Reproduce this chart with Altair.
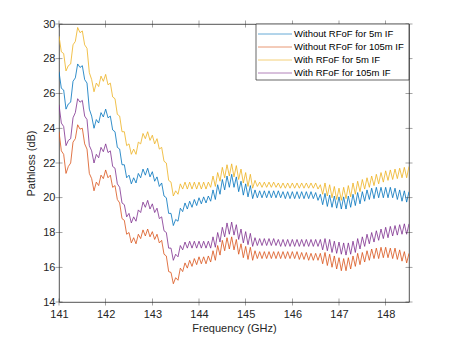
import altair as alt
import numpy as np
import pandas as pd

# Sampling grid: 141.00 .. 148.50 GHz every 0.05 GHz (151 samples)
freq = np.round(np.linspace(141.0, 148.5, 151), 3)

# Without RFoF for 5m IF (blue)
blue = [
    27.25, 26.3, 26.2, 25.1, 25.4, 25.5, 26.7, 26.9, 27.7, 27.5,
    27.6, 26.8, 26.6, 25.1, 24.7, 24.0, 24.5, 24.3, 24.9, 24.65,
    25.1, 24.6, 24.7, 23.9, 23.8, 22.9, 22.8, 21.9, 21.9, 21.15,
    21.3, 20.8, 21.15, 20.85, 21.4, 21.15, 21.65, 21.3, 21.7, 21.2,
    21.5, 20.95, 21.2, 20.65, 20.85, 20.1, 20.0, 19.1, 19.1, 18.4,
    18.75, 18.65, 19.4, 19.2, 19.7, 19.35, 19.8, 19.45, 19.9, 19.55,
    20.0, 19.65, 20.05, 19.7, 20.1, 19.8, 20.45, 19.9, 20.75, 20.2,
    21.05, 20.45, 21.25, 20.6, 21.35, 20.6, 21.2, 20.35, 20.95, 20.15,
    20.8, 20.05, 20.7, 19.95, 20.45, 20.0, 20.4, 20.0, 20.4, 20.0,
    20.4, 20.0, 20.4, 20.0, 20.4, 20.0, 20.35, 19.95, 20.35, 19.95,
    20.35, 19.95, 20.35, 19.95, 20.35, 19.95, 20.35, 19.95, 20.35, 19.95,
    20.3, 19.85, 20.2, 19.6, 20.25, 19.5, 20.15, 19.45, 20.1, 19.4,
    20.05, 19.35, 20.05, 19.35, 20.1, 19.45, 20.2, 19.55, 20.3, 19.65,
    20.35, 19.8, 20.45, 19.9, 20.55, 19.95, 20.6, 20.0, 20.6, 20.0,
    20.6, 20.0, 20.6, 20.0, 20.55, 19.9, 20.45, 19.8, 20.4, 19.75,
    20.35,
]

# Without RFoF for 105m IF (orange)
orange = [
    23.8, 22.7, 22.5, 21.4, 21.8, 22.0, 23.2, 23.4, 24.2, 23.95,
    24.0, 23.1, 22.8, 21.4, 21.1, 20.4, 20.9, 20.7, 21.3, 21.1,
    21.6, 21.15, 21.3, 20.6, 20.7, 19.9, 19.7, 18.8, 18.7, 17.9,
    18.0, 17.4, 17.7, 17.35, 17.9, 17.65, 18.15, 17.8, 18.2, 17.75,
    18.05, 17.6, 17.9, 17.4, 17.55, 16.75, 16.65, 15.75, 15.7, 15.05,
    15.4, 15.25, 15.95, 15.75, 16.25, 15.95, 16.4, 16.05, 16.5, 16.15,
    16.6, 16.2, 16.6, 16.2, 16.65, 16.3, 16.95, 16.4, 17.25, 16.7,
    17.55, 16.95, 17.7, 17.05, 17.75, 17.0, 17.6, 16.75, 17.35, 16.55,
    17.2, 16.45, 17.15, 16.4, 16.95, 16.5, 16.9, 16.5, 16.9, 16.5,
    16.9, 16.5, 16.9, 16.5, 16.9, 16.5, 16.9, 16.5, 16.9, 16.5,
    16.9, 16.5, 16.9, 16.45, 16.85, 16.45, 16.85, 16.4, 16.8, 16.4,
    16.8, 16.4, 16.8, 16.2, 16.85, 16.1, 16.75, 16.0, 16.65, 15.9,
    16.55, 15.8, 16.5, 15.8, 16.55, 15.9, 16.65, 16.05, 16.8, 16.15,
    16.85, 16.3, 16.95, 16.4, 17.05, 16.5, 17.1, 16.5, 17.15, 16.55,
    17.15, 16.55, 17.1, 16.5, 17.1, 16.45, 17.0, 16.35, 16.9, 16.25,
    16.8,
]

# With RFoF for 5m IF (yellow)
yellow = [
    29.3, 28.4, 28.3, 27.3, 27.6, 27.7, 28.8, 29.0, 29.8, 29.5,
    29.6, 28.8, 28.6, 27.2, 26.8, 26.1, 26.6, 26.4, 27.0, 26.7,
    27.1, 26.5, 26.6, 25.8, 25.7, 24.8, 24.7, 23.8, 23.8, 23.0,
    23.1, 22.5, 22.8, 22.5, 23.2, 23.1, 23.7, 23.4, 23.8, 23.3,
    23.6, 23.1, 23.4, 22.8, 22.9, 22.1, 22.0, 21.0, 20.9, 20.1,
    20.4, 20.2, 20.8, 20.5, 20.9, 20.5, 20.9, 20.5, 20.9, 20.5,
    20.9, 20.5, 20.9, 20.5, 20.9, 20.6, 21.25, 20.65, 21.45, 20.95,
    21.75, 21.15, 21.9, 21.25, 21.95, 21.2, 21.85, 21.05, 21.65, 20.85,
    21.45, 20.65, 21.35, 20.55, 21.0, 20.65, 20.9, 20.6, 20.9, 20.6,
    20.9, 20.6, 20.9, 20.6, 20.85, 20.55, 20.85, 20.55, 20.85, 20.55,
    20.85, 20.55, 20.85, 20.55, 20.85, 20.55, 20.85, 20.55, 20.85, 20.55,
    20.85, 20.5, 20.75, 20.2, 20.85, 20.1, 20.75, 20.0, 20.65, 19.9,
    20.55, 19.85, 20.6, 19.95, 20.7, 20.05, 20.85, 20.2, 20.95, 20.35,
    21.05, 20.5, 21.15, 20.6, 21.25, 20.7, 21.35, 20.8, 21.45, 20.9,
    21.55, 21.0, 21.6, 21.05, 21.65, 21.1, 21.7, 21.15, 21.75, 21.15,
    21.8,
]

# With RFoF for 105m IF (purple)
purple = [
    25.35, 24.3, 24.1, 23.0, 23.3, 23.4, 24.6, 24.9, 25.7, 25.5,
    25.6, 24.7, 24.5, 23.0, 22.7, 22.0, 22.5, 22.3, 22.9, 22.65,
    23.1, 22.6, 22.7, 21.8, 21.7, 20.8, 20.6, 19.7, 19.6, 18.9,
    19.1, 18.55, 18.9, 18.65, 19.3, 19.15, 19.75, 19.45, 19.85, 19.35,
    19.65, 19.15, 19.4, 18.8, 18.9, 18.1, 18.0, 17.1, 17.1, 16.4,
    16.75, 16.6, 17.25, 17.0, 17.45, 17.1, 17.5, 17.1, 17.5, 17.1,
    17.5, 17.1, 17.5, 17.1, 17.5, 17.1, 17.75, 17.15, 18.0, 17.45,
    18.3, 17.75, 18.55, 17.9, 18.6, 17.85, 18.45, 17.6, 18.2, 17.4,
    18.05, 17.3, 17.95, 17.2, 17.7, 17.25, 17.65, 17.25, 17.65, 17.25,
    17.65, 17.25, 17.65, 17.25, 17.6, 17.2, 17.6, 17.2, 17.6, 17.2,
    17.6, 17.2, 17.6, 17.2, 17.6, 17.2, 17.6, 17.2, 17.6, 17.2,
    17.6, 17.2, 17.6, 17.0, 17.65, 16.95, 17.6, 16.85, 17.5, 16.8,
    17.45, 16.75, 17.4, 16.7, 17.4, 16.75, 17.5, 16.85, 17.65, 17.05,
    17.75, 17.2, 17.9, 17.35, 18.0, 17.45, 18.1, 17.55, 18.2, 17.65,
    18.3, 17.7, 18.35, 17.8, 18.4, 17.85, 18.45, 17.9, 18.5, 17.9,
    18.5,
]

series_names = [
    "Without RFoF for 5m IF",
    "Without RFoF for 105m IF",
    "With RFoF for 5m IF",
    "With RFoF for 105m IF",
]
series_colors = ["#0072BD", "#D95319", "#EDB120", "#7E2F8E"]

x_ticks = [141, 142, 143, 144, 145, 146, 147, 148]
y_ticks = [14, 16, 18, 20, 22, 24, 26, 28, 30]

rows = []
for k, (name, vals) in enumerate(zip(series_names, [blue, orange, yellow, purple])):
    for f, v in zip(freq, vals):
        rows.append({"freq": float(f), "value": v, "series": name, "ord": k})
df = pd.DataFrame(rows)
leg_df = pd.DataFrame({"series": series_names})
box_df = pd.DataFrame({"k": [0]})

W, H = 350, 278
FONT = "Liberation Sans"
AXC = "#262626"

xscale = alt.Scale(domain=[141, 148.5], nice=False, zero=False)
yscale = alt.Scale(domain=[14, 30], nice=False, zero=False)
cscale = alt.Scale(domain=series_names, range=series_colors)

xaxis = alt.Axis(values=x_ticks, title="Frequency (GHz)", tickSize=0,
                 domain=False, grid=False, labelPadding=6, titlePadding=3,
                 format="d", labelOverlap=False, labelFlush=False)
yaxis = alt.Axis(values=y_ticks, title="Pathloss (dB)", tickSize=0,
                 domain=False, grid=False, labelPadding=4, titlePadding=6,
                 format="d", labelOverlap=False, labelFlush=False)

lines = alt.Chart(df).mark_line(strokeWidth=0.8, clip=True).encode(
    x=alt.X("freq:Q", scale=xscale, axis=xaxis),
    y=alt.Y("value:Q", scale=yscale, axis=yaxis),
    color=alt.Color("series:N", scale=cscale, legend=None),
    detail="ord:O",
)

xt = pd.DataFrame({"t": x_ticks})
yt = pd.DataFrame({"t": y_ticks})

def vtick(ypix):
    return alt.Chart(xt).mark_tick(orient="vertical", size=7, thickness=0.6,
                                   color=AXC).encode(
        x=alt.X("t:Q", scale=xscale, axis=xaxis),
        y=alt.value(ypix))

def htick(xpix):
    return alt.Chart(yt).mark_tick(orient="horizontal", size=7, thickness=0.6,
                                   color=AXC).encode(
        y=alt.Y("t:Q", scale=yscale, axis=None),
        x=alt.value(xpix))

# legend (drawn as marks, placed in the top-right corner of the axes)
LX0, LY1 = 197, 56
leg_pos = alt.Scale(type="point", domain=series_names, range=[10, 49], padding=0)

leg_box = alt.Chart(box_df).mark_rect(fill="white", stroke=AXC,
                                      strokeWidth=0.7).encode(
    x=alt.value(LX0), x2=alt.value(W), y=alt.value(0), y2=alt.value(LY1))

leg_lines = alt.Chart(leg_df).mark_rule(strokeWidth=1, opacity=0.6).encode(
    x=alt.value(LX0 + 2), x2=alt.value(LX0 + 36),
    y=alt.Y("series:N", scale=leg_pos, axis=None),
    color=alt.Color("series:N", scale=cscale, legend=None))

leg_text = alt.Chart(leg_df).mark_text(align="left", baseline="middle",
                                       font=FONT, fontSize=9.5,
                                       color="#000000").encode(
    x=alt.value(LX0 + 38),
    y=alt.Y("series:N", scale=leg_pos, axis=None),
    text="series:N")

chart = alt.layer(
    lines, vtick(H), vtick(0), htick(0), htick(W), leg_box, leg_lines, leg_text
).resolve_scale(y="independent").properties(
    width=W, height=H,
    autosize=alt.AutoSizeParams(type="none"),
    padding={"left": 51, "top": 16, "right": 35, "bottom": 37},
).configure_view(
    stroke=AXC, strokeWidth=0.8,
).configure_axis(
    labelFont=FONT, titleFont=FONT, labelFontSize=11, titleFontSize=11,
    labelColor=AXC, titleColor=AXC, titleFontWeight="normal",
)

chart.save("out.html", embed_options={"renderer": "svg", "actions": False})
